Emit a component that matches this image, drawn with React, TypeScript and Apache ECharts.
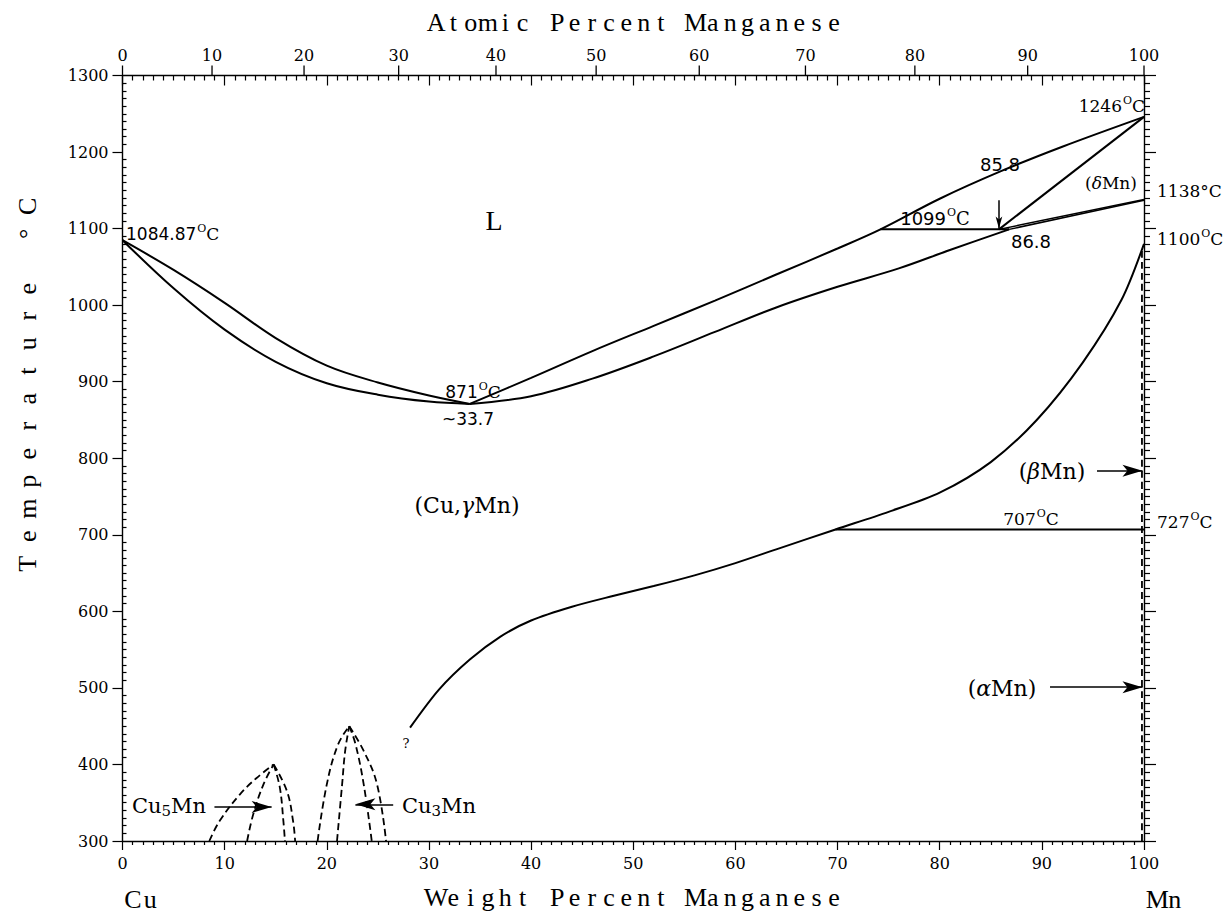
import React, { useEffect, useRef } from "react";
import * as echarts from "echarts";

// ---------- data ----------
const atomicTickLabels = [0, 10, 20, 30, 40, 50, 60, 70, 80, 90, 100];
const M_CU = 63.546;
const M_MN = 54.938;
const atToWt = (a: number) => (100 * a * M_MN) / (a * M_MN + (100 - a) * M_CU);

// liquidus / solidus of (Cu,gammaMn)
const liquidusLeft: number[][] = [[0, 1084.87], [5, 1046], [10, 1003], [15, 957], [20, 921], [25, 899], [30, 882], [34.0, 871]];
const solidusLeft: number[][] = [[0, 1084.87], [5, 1022], [10, 968], [15, 926], [20, 898], [25, 883], [30, 874], [34.0, 871]];
const liquidusRight: number[][] = [[34.0, 871], [40, 905], [46, 940], [52, 973], [58, 1006], [64, 1040], [70, 1074], [74.2, 1099], [80, 1139], [86, 1175], [92, 1207], [100, 1246]];
const solidusRight: number[][] = [[34.0, 871], [40, 881], [46, 904], [52, 933], [58, 965], [64, 997], [70, 1024], [76, 1048], [81, 1072], [86.8, 1099]];
const deltaSolidus: number[][] = [[85.8, 1099], [100, 1246]];
const deltaGammaA: number[][] = [[85.8, 1099], [100, 1138]];
const deltaGammaB: number[][] = [[86.8, 1099], [100, 1137]];
const peritectic: number[][] = [[74.2, 1099], [86.8, 1099]];
const eutectoid: number[][] = [[69.8, 707], [100, 707]];
const gammaBoundary: number[][] = [[28.15, 448], [31, 498], [34, 537], [37, 567], [40, 588], [44, 606], [48, 620], [52, 633], [56, 647], [60, 663], [64, 681], [69.8, 707], [75, 730], [80, 755], [85, 795], [89.5, 850], [94, 925], [97.8, 1007], [100, 1080]];
const mnSideDashed: number[][] = [[99.8, 300], [99.8, 1075]];
// ordered phases (dashed)
const cu5OuterLeft: number[][] = [[8.5, 300], [9.5, 326], [11.5, 361], [13.1, 382], [14.8, 400]];
const cu5InnerLeft: number[][] = [[12.2, 300], [12.8, 335], [13.8, 374], [14.8, 400]];
const cu5InnerRight: number[][] = [[14.8, 400], [15.4, 370], [15.75, 326], [15.9, 300]];
const cu5OuterRight: number[][] = [[14.8, 400], [16.1, 365], [16.7, 326], [16.9, 300]];
const cu3OuterLeft: number[][] = [[19.1, 300], [20.0, 374], [21.1, 426], [22.2, 450]];
const cu3InnerLeft: number[][] = [[21.0, 300], [21.5, 374], [21.8, 418], [22.2, 450]];
const cu3InnerRight: number[][] = [[22.2, 450], [22.8, 427], [23.6, 375], [24.4, 300]];
const cu3OuterRight: number[][] = [[22.2, 450], [23.6, 418], [24.9, 375], [25.8, 300]];

// ---------- layout ----------
const GL = 122.5, GT = 75.5, GW = 1021.5, GH = 765.5;
const SERIF = '"DejaVu Serif", serif';
const SANS = '"DejaVu Sans", sans-serif';
const TITLE_FONT = '26px "Liberation Serif", serif';

const solid = (data: number[][], smooth: number | boolean = 0.35, extra: any = {}) => ({
  type: "line", data, showSymbol: false, symbol: "none", smooth, silent: true,
  lineStyle: { color: "#000", width: 2 }, z: 3, ...extra,
});
const dashed = (data: number[][]) => ({
  type: "line", data, showSymbol: false, symbol: "none", smooth: 0.4, silent: true,
  lineStyle: { color: "#000", width: 1.8, type: [7, 4] }, z: 3,
});

const spacedText = (s: string, cx: number, cy: number, pitch: number, font: string, rotation = 0) => {
  const n = s.length;
  return {
    type: "group", x: cx, y: cy, rotation,
    children: s.split("").map((c, i) => ({
      type: "text", x: (i - (n - 1) / 2) * pitch, y: 0,
      style: { text: c, font, fill: "#000", align: "center", verticalAlign: "middle" },
    })),
  };
};

const supRich = (numFont: string, size: number) => ({
  n: { fontFamily: numFont, fontSize: size, color: "#000" },
  s: { fontFamily: SERIF, fontSize: 11, color: "#000", padding: [0, 0, 11, 1] },
  c: { fontFamily: SERIF, fontSize: size, color: "#000" },
});
const degLabel = (num: string, x: number, y: number, align: string, numFont = SERIF, size = 17) => ({
  type: "text", x, y,
  style: { text: `{n|${num}}{s|O}{c|C}`, rich: supRich(numFont, size), align, verticalAlign: "middle", fill: "#000" },
});
const plain = (t: string, x: number, y: number, font: string, align = "center") => ({
  type: "text", x, y, style: { text: t, font, fill: "#000", align, verticalAlign: "middle" },
});
const greek = (g: string, x: number, y: number, size: number) => ({
  type: "text", x, y,
  style: {
    text: `{a|(}{g|${g}}{a|Mn)}`,
    rich: {
      a: { fontFamily: SERIF, fontSize: size, color: "#000" },
      g: { fontFamily: SERIF, fontSize: size, fontStyle: "italic", color: "#000" },
    },
    align: "center", verticalAlign: "middle",
  },
});
const compound = (sub: string, x: number, y: number) => ({
  type: "text", x, y,
  style: {
    text: `{a|Cu}{b|${sub}}{a|Mn}`,
    rich: {
      a: { fontFamily: SERIF, fontSize: 21, color: "#000" },
      b: { fontFamily: SERIF, fontSize: 15, color: "#000", padding: [10, 0, 0, 0] },
    },
    align: "center", verticalAlign: "middle",
  },
});

const arrowLine = (from: number[], to: number[], size: number[]) => [
  { coord: from, symbol: "none" },
  { coord: to, symbol: "arrow", symbolSize: size },
];

export default function App() {
  const ref = useRef<HTMLDivElement>(null);
  useEffect(() => {
    const chart = echarts.init(ref.current!, null, { renderer: "svg" });
    const axisLine = { show: true, lineStyle: { color: "#000", width: 1.4 } };
    const fmt = (v: number) => String(v);
    const option: any = {
      animation: false,
      backgroundColor: "#fff",
      grid: { left: GL, top: GT, width: GW, height: GH, show: false },
      xAxis: [
        {
          type: "value", position: "bottom", min: 0, max: 100, interval: 10,
          axisLine, splitLine: { show: false },
          axisTick: { show: true, inside: false, length: 9, lineStyle: { color: "#000", width: 1.2 } },
          minorTick: { show: true, splitNumber: 10, length: 4, lineStyle: { color: "#000", width: 1.2 } },
          axisLabel: { margin: 14, fontFamily: SERIF, fontSize: 16, color: "#000", formatter: fmt },
        },
        {
          type: "value", position: "top", min: 0, max: 100, interval: 10,
          axisLine, splitLine: { show: false },
          axisTick: { show: true, inside: true, length: 10, lineStyle: { color: "#000", width: 1.2 } },
          minorTick: { show: true, splitNumber: 10, length: 5, lineStyle: { color: "#000", width: 1.2 } },
          axisLabel: { show: false },
        },
      ],
      yAxis: [
        {
          type: "value", position: "left", min: 300, max: 1300, interval: 100,
          axisLine, splitLine: { show: false },
          axisTick: { show: true, inside: false, length: 10, lineStyle: { color: "#000", width: 1.2 } },
          axisLabel: { margin: 14, fontFamily: SERIF, fontSize: 16, color: "#000", formatter: fmt },
        },
        {
          type: "value", position: "left", min: 300, max: 1300, interval: 100,
          axisLine: { show: false }, splitLine: { show: false },
          axisTick: { show: false, inside: true },
          minorTick: { show: true, splitNumber: 10, length: 4, lineStyle: { color: "#000", width: 1.2 } },
          axisLabel: { show: false },
        },
        {
          type: "value", position: "right", min: 300, max: 1300, interval: 100,
          axisLine, splitLine: { show: false },
          axisTick: { show: true, inside: false, length: 12, lineStyle: { color: "#000", width: 1.2 } },
          minorTick: { show: true, splitNumber: 10, length: 6, lineStyle: { color: "#000", width: 1.2 } },
          axisLabel: { show: false },
        },
      ],
      series: [
        solid(liquidusLeft),
        solid(solidusLeft),
        solid(liquidusRight),
        solid(solidusRight),
        solid(deltaSolidus, false),
        solid(deltaGammaA, false, { lineStyle: { color: "#000", width: 1.5 } }),
        solid(deltaGammaB, false, { lineStyle: { color: "#000", width: 1.5 } }),
        solid(peritectic, false),
        solid(eutectoid, false, {
          markLine: {
            silent: true, symbol: ["none", "arrow"], label: { show: false },
            lineStyle: { color: "#000", width: 1.5, type: "solid" },
            data: [
              arrowLine([95.4, 783.7], [99.85, 783.7], [9, 20]),
              arrowLine([90.8, 501], [99.85, 501], [9, 20]),
              arrowLine([9.0, 344.4], [14.6, 344.4], [9, 20]),
              arrowLine([26.5, 348], [22.8, 348], [9, 20]),
              arrowLine([85.8, 1137], [85.8, 1100], [5, 12]),
            ],
          },
        }),
        solid(gammaBoundary, 0.3),
        dashed(mnSideDashed),
        dashed(cu5OuterLeft),
        dashed(cu5InnerLeft),
        dashed(cu5InnerRight),
        dashed(cu5OuterRight),
        dashed(cu3OuterLeft),
        dashed(cu3InnerLeft),
        dashed(cu3InnerRight),
        dashed(cu3OuterRight),
        {
          type: "custom", xAxisIndex: 0, yAxisIndex: 0, clip: false, silent: true, z: 5,
          data: atomicTickLabels.map((a) => [atToWt(a), 1300, a]),
          renderItem: (params: any, api: any) => {
            const p = api.coord([api.value(0), api.value(1)]);
            return {
              type: "group",
              children: [
                { type: "line", shape: { x1: p[0], y1: p[1], x2: p[0], y2: p[1] - 10 }, style: { stroke: "#000", lineWidth: 1.3 } },
                {
                  type: "text", x: p[0], y: p[1] - 20,
                  style: { text: String(api.value(2)), font: `16px ${SERIF}`, fill: "#000", align: "center", verticalAlign: "middle" },
                },
              ],
            };
          },
        },
      ],
      graphic: [
        spacedText("Atomic Percent Manganese", 635, 22, 17.3, TITLE_FONT),
        spacedText("Weight Percent Manganese", 635, 897, 17.3, TITLE_FONT),
        spacedText("Cu", 141.5, 899, 17.3, TITLE_FONT),
        spacedText("Mn", 1166, 899, 17.3, TITLE_FONT),
        spacedText("Temperature °C", 27, 385, 27.5, TITLE_FONT, Math.PI / 2),
        plain("L", 494, 220, `28px "Liberation Serif", serif`),
        plain("?", 406, 743, `13px ${SERIF}`),
        degLabel("1084.87", 126, 234, "left", SANS, 17),
        degLabel("871", 473, 392, "center", SANS, 17),
        plain("~33.7", 468, 419, `17px ${SANS}`),
        degLabel("1099", 935, 218, "center", SANS, 18),
        plain("85.8", 1000, 164, `18px ${SANS}`),
        plain("86.8", 1031, 241, `18px ${SANS}`),
        degLabel("1246", 1145, 106, "right", SERIF, 17),
        plain("1138°C", 1157, 191, `17px ${SERIF}`, "left"),
        degLabel("1100", 1157, 239, "left", SERIF, 17),
        degLabel("727", 1157, 522, "left", SERIF, 17),
        degLabel("707", 1031, 519, "center", SERIF, 17),
        greek("δ", 1111, 183, 17),
        greek("β", 1052, 471, 22),
        greek("α", 1002, 688, 22),
        {
          type: "text", x: 467, y: 505,
          style: {
            text: "{a|(Cu,}{g|γ}{a|Mn)}",
            rich: {
              a: { fontFamily: SERIF, fontSize: 22, color: "#000" },
              g: { fontFamily: SERIF, fontSize: 22, fontStyle: "italic", color: "#000" },
            },
            align: "center", verticalAlign: "middle",
          },
        },
        compound("5", 169, 806),
        compound("3", 439, 806),
      ],
    };
    chart.setOption(option);
    return () => chart.dispose();
  }, []);
  return (
    <div
      ref={ref}
      style={{ position: "fixed", left: 0, top: 0, width: 1224, height: 913, background: "#fff" }}
    />
  );
}
